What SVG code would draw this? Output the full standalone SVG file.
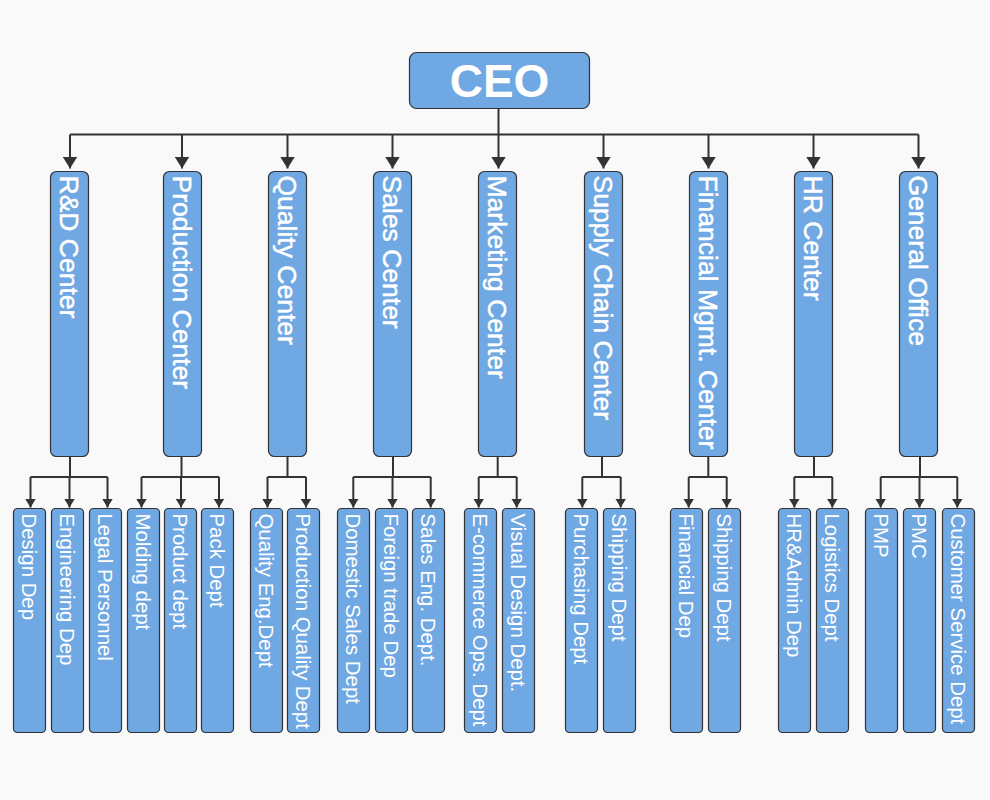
<svg xmlns="http://www.w3.org/2000/svg" width="990" height="800" viewBox="0 0 990 800">
<style>
.bg{fill:#f9f9f9}
.box{fill:#6fa8e2;stroke:#333;stroke-width:1.2}
.ln{fill:none;stroke:#333;stroke-width:2}
.ceo{font-family:"Liberation Sans",Arial,sans-serif;font-weight:bold;font-size:46px;fill:#fff}
.t1{font-family:"Liberation Sans",Arial,sans-serif;font-size:26.5px;fill:#fff;stroke:#fff;stroke-width:0.5}
.t2{font-family:"Liberation Sans",Arial,sans-serif;font-size:20.4px;fill:#fff}
</style>
<defs>
<marker id="aTop" viewBox="0 0 12 15" refX="12" refY="7.5" markerWidth="12" markerHeight="15" markerUnits="userSpaceOnUse" orient="auto"><path d="M0,0 L12,7.5 L0,15 z" fill="#333"/></marker>
<marker id="aSub" viewBox="0 0 9 11" refX="9" refY="5.5" markerWidth="9" markerHeight="11" markerUnits="userSpaceOnUse" orient="auto"><path d="M0,0 L9,5.5 L0,11 z" fill="#333"/></marker>
</defs>
<rect class="bg" x="0" y="0" width="990" height="800"/>

<g id="connectors">
<path class="ln" d="M498.5,108 V134.5 M70,134.5 H918.5"/>
<path class="ln" marker-end="url(#aTop)" d="M70,134.5 V168.5"/>
<path class="ln" marker-end="url(#aTop)" d="M182,134.5 V168.5"/>
<path class="ln" marker-end="url(#aTop)" d="M287.5,134.5 V168.5"/>
<path class="ln" marker-end="url(#aTop)" d="M392.5,134.5 V168.5"/>
<path class="ln" marker-end="url(#aTop)" d="M498.5,134.5 V168.5"/>
<path class="ln" marker-end="url(#aTop)" d="M603.5,134.5 V168.5"/>
<path class="ln" marker-end="url(#aTop)" d="M708.5,134.5 V168.5"/>
<path class="ln" marker-end="url(#aTop)" d="M813.5,134.5 V168.5"/>
<path class="ln" marker-end="url(#aTop)" d="M918.5,134.5 V168.5"/>

<path class="ln" d="M70,456 V477 M30.5,477 H107.5"/>
<path class="ln" marker-end="url(#aSub)" d="M30.5,477 V507.5"/>
<path class="ln" marker-end="url(#aSub)" d="M69.5,477 V507.5"/>
<path class="ln" marker-end="url(#aSub)" d="M107.5,477 V507.5"/>

<path class="ln" d="M181.5,456 V477 M141.5,477 H219"/>
<path class="ln" marker-end="url(#aSub)" d="M141.5,477 V507.5"/>
<path class="ln" marker-end="url(#aSub)" d="M181,477 V507.5"/>
<path class="ln" marker-end="url(#aSub)" d="M219,477 V507.5"/>

<path class="ln" d="M287.5,456 V477 M267.5,477 H306"/>
<path class="ln" marker-end="url(#aSub)" d="M267.5,477 V507.5"/>
<path class="ln" marker-end="url(#aSub)" d="M306,477 V507.5"/>

<path class="ln" d="M393,456 V477 M353.3,477 H430.7"/>
<path class="ln" marker-end="url(#aSub)" d="M353.3,477 V507.5"/>
<path class="ln" marker-end="url(#aSub)" d="M392.5,477 V507.5"/>
<path class="ln" marker-end="url(#aSub)" d="M430.7,477 V507.5"/>

<path class="ln" d="M497.7,456 V477 M478.7,477 H516.7"/>
<path class="ln" marker-end="url(#aSub)" d="M478.7,477 V507.5"/>
<path class="ln" marker-end="url(#aSub)" d="M516.7,477 V507.5"/>

<path class="ln" d="M602,456 V477 M582.3,477 H620.7"/>
<path class="ln" marker-end="url(#aSub)" d="M582.3,477 V507.5"/>
<path class="ln" marker-end="url(#aSub)" d="M620.7,477 V507.5"/>

<path class="ln" d="M708.3,456 V477 M688.7,477 H726.7"/>
<path class="ln" marker-end="url(#aSub)" d="M688.7,477 V507.5"/>
<path class="ln" marker-end="url(#aSub)" d="M726.7,477 V507.5"/>

<path class="ln" d="M814,456 V477 M794.3,477 H832.3"/>
<path class="ln" marker-end="url(#aSub)" d="M794.3,477 V507.5"/>
<path class="ln" marker-end="url(#aSub)" d="M832.3,477 V507.5"/>

<path class="ln" d="M920,456 V477 M880.7,477 H957.3"/>
<path class="ln" marker-end="url(#aSub)" d="M880.7,477 V507.5"/>
<path class="ln" marker-end="url(#aSub)" d="M919.5,477 V507.5"/>
<path class="ln" marker-end="url(#aSub)" d="M957.3,477 V507.5"/>
</g>

<g id="ceo"><rect class="box" x="409.5" y="52.5" width="180" height="56" rx="7"/><text class="ceo" x="499.5" y="96.5" text-anchor="middle">CEO</text></g>

<g id="rd-center"><rect class="box" x="50.5" y="171.5" width="38" height="285" rx="6"/><text class="t1" transform="translate(69.5,171.5) rotate(90)" x="4" y="9.4">R&amp;D Center</text></g>
<g id="production-center"><rect class="box" x="163.5" y="171.5" width="38" height="285" rx="6"/><text class="t1" transform="translate(182.5,171.5) rotate(90)" x="4" y="9.4">Production Center</text></g>
<g id="quality-center"><rect class="box" x="268.5" y="171.5" width="38" height="285" rx="6"/><text class="t1" transform="translate(287.5,171.5) rotate(90)" x="4" y="9.4">Quality Center</text></g>
<g id="sales-center"><rect class="box" x="373.5" y="171.5" width="38" height="285" rx="6"/><text class="t1" transform="translate(392.5,171.5) rotate(90)" x="4" y="9.4">Sales Center</text></g>
<g id="marketing-center"><rect class="box" x="478.5" y="171.5" width="38" height="285" rx="6"/><text class="t1" transform="translate(497.5,171.5) rotate(90)" x="4" y="9.4">Marketing Center</text></g>
<g id="supply-chain-center"><rect class="box" x="584.5" y="171.5" width="38" height="285" rx="6"/><text class="t1" transform="translate(603.5,171.5) rotate(90)" x="4" y="9.4">Supply Chain Center</text></g>
<g id="financial-center"><rect class="box" x="689.5" y="171.5" width="38" height="285" rx="6"/><text class="t1" transform="translate(708.5,171.5) rotate(90)" x="4" y="9.4">Financial Mgmt. Center</text></g>
<g id="hr-center"><rect class="box" x="794.5" y="171.5" width="38" height="285" rx="6"/><text class="t1" transform="translate(813.5,171.5) rotate(90)" x="4" y="9.4">HR Center</text></g>
<g id="general-office"><rect class="box" x="899.5" y="171.5" width="38" height="285" rx="6"/><text class="t1" transform="translate(918.5,171.5) rotate(90)" x="4" y="9.4">General Office</text></g>

<g id="design-dep"><rect class="box" x="13.5" y="508.5" width="32" height="224" rx="4"/><text class="t2" transform="translate(29.5,508.5) rotate(90)" x="5" y="7.3">Design Dep</text></g>
<g id="engineering-dep"><rect class="box" x="51.5" y="508.5" width="32" height="224" rx="4"/><text class="t2" transform="translate(67.5,508.5) rotate(90)" x="5" y="7.3">Engineering Dep</text></g>
<g id="legal-personnel"><rect class="box" x="89.5" y="508.5" width="32" height="224" rx="4"/><text class="t2" transform="translate(105.5,508.5) rotate(90)" x="5" y="7.3">Legal Personnel</text></g>
<g id="molding-dept"><rect class="box" x="127.5" y="508.5" width="32" height="224" rx="4"/><text class="t2" transform="translate(143.5,508.5) rotate(90)" x="5" y="7.3">Molding dept</text></g>
<g id="product-dept"><rect class="box" x="164.5" y="508.5" width="32" height="224" rx="4"/><text class="t2" transform="translate(180.5,508.5) rotate(90)" x="5" y="7.3">Product dept</text></g>
<g id="pack-dept"><rect class="box" x="201.5" y="508.5" width="32" height="224" rx="4"/><text class="t2" transform="translate(217.5,508.5) rotate(90)" x="5" y="7.3">Pack Dept</text></g>
<g id="quality-eng-dept"><rect class="box" x="250.5" y="508.5" width="32" height="224" rx="4"/><text class="t2" transform="translate(266.5,508.5) rotate(90)" x="5" y="7.3">Quality Eng.Dept</text></g>
<g id="production-quality-dept"><rect class="box" x="287.5" y="508.5" width="32" height="224" rx="4"/><text class="t2" transform="translate(303.5,508.5) rotate(90)" x="5" y="7.3">Production Quality Dept</text></g>
<g id="domestic-sales-dept"><rect class="box" x="337.5" y="508.5" width="32" height="224" rx="4"/><text class="t2" transform="translate(353.5,508.5) rotate(90)" x="5" y="7.3">Domestic Sales Dept</text></g>
<g id="foreign-trade-dep"><rect class="box" x="375.5" y="508.5" width="32" height="224" rx="4"/><text class="t2" transform="translate(391.5,508.5) rotate(90)" x="5" y="7.3">Foreign trade Dep</text></g>
<g id="sales-eng-dept"><rect class="box" x="412.5" y="508.5" width="32" height="224" rx="4"/><text class="t2" transform="translate(428.5,508.5) rotate(90)" x="5" y="7.3">Sales Eng. Dept.</text></g>
<g id="ecommerce-ops-dept"><rect class="box" x="464.5" y="508.5" width="32" height="224" rx="4"/><text class="t2" transform="translate(480.5,508.5) rotate(90)" x="5" y="7.3">E-commerce Ops. Dept</text></g>
<g id="visual-design-dept"><rect class="box" x="502.5" y="508.5" width="32" height="224" rx="4"/><text class="t2" transform="translate(518.5,508.5) rotate(90)" x="5" y="7.3">Visual Design Dept.</text></g>
<g id="purchasing-dept"><rect class="box" x="565.5" y="508.5" width="32" height="224" rx="4"/><text class="t2" transform="translate(581.5,508.5) rotate(90)" x="5" y="7.3">Purchasing Dept</text></g>
<g id="shipping-dept-1"><rect class="box" x="603.5" y="508.5" width="32" height="224" rx="4"/><text class="t2" transform="translate(619.5,508.5) rotate(90)" x="5" y="7.3">Shipping Dept</text></g>
<g id="financial-dep"><rect class="box" x="670.5" y="508.5" width="32" height="224" rx="4"/><text class="t2" transform="translate(686.5,508.5) rotate(90)" x="5" y="7.3">Financial Dep</text></g>
<g id="shipping-dept-2"><rect class="box" x="708.5" y="508.5" width="32" height="224" rx="4"/><text class="t2" transform="translate(724.5,508.5) rotate(90)" x="5" y="7.3">Shipping Dept</text></g>
<g id="hr-admin-dep"><rect class="box" x="778.5" y="508.5" width="32" height="224" rx="4"/><text class="t2" transform="translate(794.5,508.5) rotate(90)" x="5" y="7.3">HR&amp;Admin Dep</text></g>
<g id="logistics-dept"><rect class="box" x="816.5" y="508.5" width="32" height="224" rx="4"/><text class="t2" transform="translate(832.5,508.5) rotate(90)" x="5" y="7.3">Logistics Dept</text></g>
<g id="pmp"><rect class="box" x="865.5" y="508.5" width="32" height="224" rx="4"/><text class="t2" transform="translate(881.5,508.5) rotate(90)" x="5" y="7.3">PMP</text></g>
<g id="pmc"><rect class="box" x="903.5" y="508.5" width="32" height="224" rx="4"/><text class="t2" transform="translate(919.5,508.5) rotate(90)" x="5" y="7.3">PMC</text></g>
<g id="customer-service-dept"><rect class="box" x="942.5" y="508.5" width="32" height="224" rx="4"/><text class="t2" transform="translate(958.5,508.5) rotate(90)" x="5" y="7.3">Customer Service Dept</text></g>
</svg>
